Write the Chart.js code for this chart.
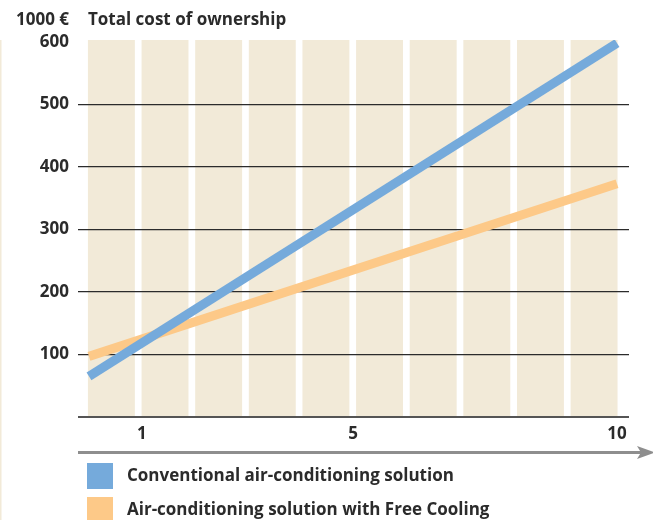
<!DOCTYPE html>
<html>
<head>
<meta charset="utf-8">
<script src="https://cdn.jsdelivr.net/npm/chart.js@4"></script>
<style>
  html, body { margin: 0; padding: 0; background: #fff; }
  canvas { display: block; }
</style>
</head>
<body>
<canvas id="tco" width="653" height="520"></canvas>
<script>
// Years (x) and total cost in 1000 EUR (y)
const years = [0, 10];
const conventionalCost = [65, 598];
const freeCoolingCost = [97, 373];

const seriesLabels = ['Conventional air-conditioning solution', 'Air-conditioning solution with Free Cooling'];
const seriesColors = ['#75AADB', '#FDC988'];

const xTickValues = [1, 5, 10];
const yTickValues = [0, 100, 200, 300, 400, 500, 600];
const unitLabel = '1000 €';
const chartTitle = 'Total cost of ownership';

const bandCount = 10;
const bandColor = '#F2EAD8';
const textColor = '#2B2B2B';
const FONT = "'Open Sans', sans-serif";

function toPoints(xs, ys) {
  return xs.map((x, i) => ({ x: x, y: ys[i] }));
}

// beige columns behind the grid, one per year
const bandsPlugin = {
  id: 'bands',
  beforeDraw(chart) {
    const { ctx, chartArea, scales } = chart;
    const x = scales.x;
    const start = x.getPixelForValue(-0.02);
    const end = x.getPixelForValue(10.01);
    const gap = 6.7;
    const pitch = (end - start + gap) / bandCount;
    ctx.save();
    ctx.fillStyle = bandColor;
    for (let i = 0; i < bandCount; i++) {
      const left = start + i * pitch;
      ctx.fillRect(left, chartArea.top, pitch - gap, chartArea.bottom - chartArea.top);
    }
    // thin strip on the page edge
    ctx.fillRect(0, chartArea.top, 1.5, chart.height - chartArea.top);
    ctx.restore();
  }
};

// header, arrow and legend
const decorPlugin = {
  id: 'decor',
  afterDraw(chart) {
    const { ctx, chartArea } = chart;
    ctx.save();
    ctx.fillStyle = textColor;
    ctx.font = 'bold 17px ' + FONT;
    ctx.textBaseline = 'middle';
    ctx.textAlign = 'right';
    ctx.fillText(unitLabel, chartArea.left - 9, 20);
    ctx.textAlign = 'left';
    ctx.fillText(chartTitle, chartArea.left + 10, 20);

    // x axis arrow
    const ay = 452.5;
    ctx.strokeStyle = '#8E8E8E';
    ctx.lineWidth = 3;
    ctx.beginPath();
    ctx.moveTo(chartArea.left, ay);
    ctx.lineTo(642, ay);
    ctx.stroke();
    ctx.fillStyle = '#8E8E8E';
    ctx.beginPath();
    ctx.moveTo(637, ay - 6.5);
    ctx.lineTo(655, ay);
    ctx.lineTo(637, ay + 6.5);
    ctx.lineTo(641, ay);
    ctx.closePath();
    ctx.fill();

    // legend
    chart.data.datasets.forEach((ds, i) => {
      const top = 463 + i * 34;
      ctx.fillStyle = ds.borderColor;
      ctx.fillRect(87, top, 26, 26);
      ctx.fillStyle = textColor;
      ctx.textAlign = 'left';
      ctx.fillText(ds.label, 127, top + 13.5);
    });
    ctx.restore();
  }
};

new Chart(document.getElementById('tco'), {
  type: 'line',
  data: {
    datasets: [
      {
        label: seriesLabels[0],
        data: toPoints(years, conventionalCost),
        borderColor: seriesColors[0],
        borderWidth: 9,
        borderCapStyle: 'butt',
        pointRadius: 0,
        tension: 0,
        fill: false
      },
      {
        label: seriesLabels[1],
        data: toPoints(years, freeCoolingCost),
        borderColor: seriesColors[1],
        borderWidth: 9,
        borderCapStyle: 'butt',
        pointRadius: 0,
        tension: 0,
        fill: false,
        order: 1
      }
    ]
  },
  options: {
    responsive: false,
    animation: false,
    devicePixelRatio: 1,
    layout: { padding: { left: 0, right: 24, top: 40, bottom: 0 } },
    plugins: {
      legend: { display: false },
      tooltip: { enabled: false }
    },
    scales: {
      x: {
        type: 'linear',
        min: -0.208,
        max: 10.227,
        afterFit: s => { s.height = 103; },
        afterBuildTicks: s => { s.ticks = xTickValues.map(v => ({ value: v })); },
        grid: { display: false, drawTicks: false },
        border: { display: false },
        ticks: {
          padding: 7,
          color: textColor,
          font: { family: FONT, size: 17, weight: 'bold' },
          maxRotation: 0
        }
      },
      y: {
        min: 0,
        max: 603,
        afterFit: s => { s.width = 78; },
        afterBuildTicks: s => { s.ticks = yTickValues.map(v => ({ value: v })); },
        grid: {
          drawTicks: false,
          color: c => c.tick.value === 0 ? '#555555' : (c.tick.value === 600 ? 'rgba(0,0,0,0)' : '#2B2B2B'),
          lineWidth: c => c.tick.value === 0 ? 2 : 1.3
        },
        border: { display: false },
        ticks: {
          padding: 9,
          color: textColor,
          font: { family: FONT, size: 17, weight: 'bold' },
          callback: v => v === 0 ? '' : v
        }
      }
    }
  },
  plugins: [bandsPlugin, decorPlugin]
});
</script>
</body>
</html>
